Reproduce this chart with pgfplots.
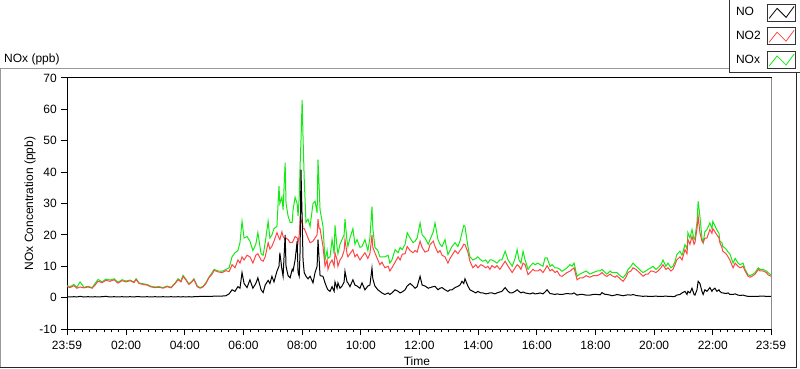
\documentclass[border=0pt]{standalone}
\usepackage{fontspec}
\setmainfont{Liberation Sans}
\usepackage{pgfplots}
\pgfplotsset{compat=1.18}
\usepackage{pgfplotstable}
\definecolor{noxgreen}{RGB}{20,235,20}
\definecolor{notwored}{RGB}{255,70,70}

\pgfplotstableread{
h NO NO2 NOx
-0.0167 0.3 3.5 3.8
0.09 0.2 3.2 3.5
0.22 0.3 3.8 4.2
0.32 0.2 3.0 3.3
0.43 0.4 3.4 5.0
0.56 0.2 3.1 3.3
0.70 0.3 3.4 3.6
0.84 0.2 3.0 3.2
0.94 0.3 4.0 4.5
1.04 0.2 5.2 5.8
1.18 0.3 4.8 5.0
1.31 0.4 5.5 5.9
1.45 0.2 5.2 5.6
1.59 0.3 5.7 6.0
1.72 0.2 4.6 4.9
1.86 0.3 5.4 5.7
2.00 0.2 5.0 5.3
2.13 0.3 5.4 5.6
2.27 0.2 4.8 5.0
2.34 0.3 5.8 6.0
2.44 0.3 4.5 4.7
2.58 0.2 4.2 4.4
2.71 0.3 4.0 4.2
2.85 0.2 3.4 3.6
2.98 0.3 3.2 3.4
3.12 0.2 3.3 3.5
3.26 0.3 3.0 3.2
3.39 0.2 3.5 3.7
3.53 0.3 3.1 3.3
3.67 0.2 4.5 4.7
3.77 0.3 5.7 6.0
3.87 0.2 5.0 5.3
3.94 0.3 6.8 7.1
4.04 0.2 5.6 5.8
4.14 0.3 4.2 4.4
4.24 0.2 5.0 5.2
4.31 0.3 5.8 6.0
4.42 0.3 3.5 3.8
4.52 0.4 3.0 3.2
4.62 0.4 3.4 3.6
4.72 0.4 4.5 4.8
4.82 0.4 6.3 6.5
4.93 0.4 7.5 8.0
5.00 0.5 8.7 9.0
5.13 0.5 8.2 8.5
5.27 0.5 8.0 8.4
5.40 0.6 8.6 9.0
5.51 1.2 8.3 9.5
5.61 2.5 10.5 13.0
5.71 2.0 9.5 14.3
5.81 3.5 12.0 15.0
5.88 3.0 11.0 17.5
5.95 8.0 13.0 24.3
6.02 4.5 12.0 19.0
6.12 3.2 13.5 19.5
6.22 5.7 13.0 18.0
6.32 3.0 11.0 15.0
6.42 4.5 13.5 17.0
6.49 6.3 14.0 20.7
6.60 2.5 12.0 14.0
6.67 1.6 11.6 13.5
6.74 4.0 13.0 17.5
6.84 5.5 17.5 24.3
6.90 4.5 15.5 19.0
6.97 6.8 16.4 20.0
7.04 5.0 18.0 22.0
7.14 8.4 20.7 22.7
7.21 10.0 19.0 35.5
7.24 14.3 18.5 30.0
7.31 9.0 21.0 32.0
7.35 6.8 19.5 28.0
7.42 20.0 18.5 43.0
7.45 10.0 19.0 30.0
7.52 7.0 18.5 26.0
7.59 6.3 17.5 24.0
7.66 9.0 17.5 24.0
7.69 8.5 18.0 28.0
7.76 12.0 19.5 32.0
7.83 18.0 19.0 30.0
7.86 8.0 17.5 26.0
7.90 6.8 20.0 32.0
7.93 15.0 25.0 42.0
7.96 40.8 24.0 50.0
8.00 25.0 25.0 63.0
8.03 12.0 22.0 51.0
8.07 8.0 22.0 38.0
8.13 6.8 20.7 24.0
8.20 6.0 19.0 25.0
8.27 6.8 17.5 22.7
8.37 4.7 18.0 30.0
8.44 8.0 19.0 30.7
8.51 10.0 20.0 27.0
8.54 18.5 25.0 44.0
8.58 12.0 22.0 35.0
8.61 7.0 22.0 28.0
8.71 6.8 16.3 22.7
8.78 4.7 10.0 12.0
8.85 3.0 12.0 15.0
8.88 2.5 9.0 12.5
8.95 2.0 11.0 13.0
9.02 3.5 12.0 18.5
9.09 2.0 10.0 14.0
9.12 5.0 14.3 23.0
9.19 3.0 12.0 16.0
9.22 4.7 10.0 14.0
9.29 3.0 12.0 17.0
9.36 3.7 13.0 18.5
9.43 5.0 15.0 20.0
9.46 8.4 18.5 25.0
9.53 5.0 14.0 18.0
9.56 4.7 13.0 16.3
9.63 3.5 14.0 19.0
9.73 5.7 15.3 22.0
9.80 4.0 13.0 17.0
9.87 3.7 13.8 18.5
9.97 3.0 12.0 16.0
10.04 4.7 13.0 16.3
10.14 2.5 14.3 18.5
10.24 3.7 12.5 15.0
10.31 4.0 14.0 19.0
10.38 9.4 20.0 29.0
10.41 6.0 16.0 22.0
10.48 3.7 14.3 16.0
10.58 2.5 12.0 15.0
10.65 2.0 10.5 13.0
10.72 1.5 11.3 13.0
10.82 1.0 9.5 13.0
10.93 1.5 10.0 13.5
10.99 1.0 8.5 11.0
11.06 1.5 9.5 12.0
11.17 2.5 11.3 15.3
11.27 2.0 13.0 14.3
11.34 1.5 12.0 16.0
11.41 1.8 13.8 15.3
11.51 2.5 14.0 17.0
11.58 3.7 16.3 20.7
11.68 4.5 15.0 19.0
11.78 3.7 14.3 17.5
11.85 3.0 15.0 18.0
11.92 3.5 14.5 19.0
12.02 6.8 18.0 23.8
12.09 4.0 16.0 20.0
12.19 3.7 14.5 19.0
12.30 3.0 15.0 17.0
12.36 3.2 16.9 18.5
12.47 3.5 18.0 21.0
12.53 3.6 16.3 23.8
12.63 2.5 14.3 18.5
12.70 3.0 15.0 17.0
12.77 3.2 13.5 16.3
12.87 2.5 13.0 18.5
12.97 2.0 11.0 13.7
13.04 2.5 12.5 15.0
13.11 2.5 13.5 16.3
13.21 3.2 15.0 17.5
13.31 3.6 14.0 16.3
13.38 4.0 15.0 18.0
13.45 5.2 15.9 20.7
13.51 4.5 17.0 23.0
13.55 6.0 16.9 22.7
13.65 3.7 14.5 16.3
13.72 2.5 11.6 13.0
13.82 2.0 9.5 12.0
13.92 1.5 10.5 12.5
13.99 2.0 9.5 13.0
14.09 1.5 10.5 12.0
14.16 1.5 10.2 11.6
14.26 1.2 9.5 12.0
14.33 1.3 10.0 11.0
14.40 1.5 9.0 12.0
14.47 1.5 10.2 12.0
14.57 1.2 9.5 11.5
14.64 1.5 10.2 11.0
14.74 1.8 9.0 12.0
14.81 2.0 10.0 12.0
14.92 3.2 11.6 14.8
15.02 2.0 10.0 12.0
15.09 1.5 9.0 11.0
15.16 1.5 8.0 10.0
15.26 2.0 9.5 12.5
15.33 2.5 10.5 15.3
15.39 2.0 10.0 12.0
15.46 1.5 9.0 11.0
15.53 1.8 11.0 14.8
15.60 1.5 10.5 12.0
15.70 1.3 7.3 9.0
15.77 1.2 8.0 10.0
15.87 1.5 9.0 11.0
15.94 1.2 8.5 10.5
16.04 1.3 8.5 11.0
16.11 1.5 9.0 10.5
16.21 1.2 8.0 10.0
16.28 1.8 9.0 12.7
16.35 2.5 10.2 12.7
16.45 1.3 8.5 10.0
16.52 1.2 9.0 10.5
16.62 1.0 8.0 9.5
16.69 1.2 8.5 9.5
16.79 1.0 7.0 9.0
16.86 1.0 6.8 8.4
16.96 1.2 7.5 9.0
17.03 1.3 8.0 9.5
17.13 1.2 8.4 10.5
17.20 1.2 9.0 10.0
17.27 1.5 9.5 11.0
17.37 0.8 5.7 6.8
17.47 1.0 6.3 7.5
17.57 1.0 6.3 8.0
17.68 0.8 7.0 8.5
17.81 0.8 6.5 7.5
17.92 1.0 7.0 8.0
18.06 1.0 7.0 8.5
18.16 0.9 7.5 8.5
18.22 1.6 8.0 9.0
18.33 1.0 7.0 8.0
18.39 1.0 6.8 7.5
18.50 0.8 7.5 8.5
18.56 0.6 7.0 8.0
18.67 0.8 6.5 8.0
18.73 1.0 7.0 8.0
18.84 0.8 6.0 7.0
18.94 0.6 5.2 6.3
19.04 0.8 6.5 7.5
19.11 0.9 8.0 9.0
19.21 0.8 8.5 10.0
19.28 1.0 9.5 11.0
19.38 0.7 9.0 10.0
19.45 0.6 8.4 9.5
19.55 0.5 7.5 8.5
19.62 0.4 6.8 8.0
19.72 0.5 7.5 8.5
19.79 0.4 7.5 9.0
19.89 0.4 8.5 9.5
19.96 0.4 8.4 10.0
20.06 0.5 8.0 9.0
20.13 0.4 8.5 9.5
20.23 0.4 9.5 10.5
20.30 0.4 10.5 12.0
20.40 0.5 9.0 10.0
20.47 0.4 9.5 11.0
20.57 0.4 8.5 9.5
20.64 0.3 9.0 10.0
20.71 0.4 10.5 11.5
20.77 0.8 12.0 13.7
20.88 1.0 13.0 14.8
20.95 1.5 12.0 13.5
21.05 2.0 15.3 16.9
21.12 1.0 14.0 15.5
21.15 2.0 18.5 20.7
21.22 1.5 17.0 19.0
21.29 3.0 19.5 21.7
21.36 1.0 17.0 18.5
21.39 0.8 17.5 19.0
21.46 2.5 22.0 24.0
21.50 5.2 25.9 30.7
21.56 4.5 20.7 25.9
21.63 2.0 18.0 19.0
21.67 1.0 17.5 17.5
21.73 2.5 19.0 21.0
21.80 2.0 19.0 21.7
21.90 3.2 21.7 23.8
21.97 2.0 20.5 22.0
22.00 2.5 22.0 24.3
22.07 3.0 21.0 23.0
22.14 2.0 20.0 21.5
22.21 2.5 19.0 20.5
22.24 2.0 17.5 18.0
22.31 1.5 16.0 17.5
22.34 1.5 14.8 16.3
22.45 1.3 14.0 15.5
22.52 1.5 13.0 14.5
22.58 1.0 12.0 14.0
22.69 1.0 9.5 11.0
22.76 1.2 11.0 12.5
22.86 0.8 10.0 11.0
22.93 0.7 9.5 10.5
23.03 0.8 10.0 11.0
23.10 0.6 8.5 9.0
23.20 0.4 6.8 7.3
23.27 0.4 6.5 7.0
23.37 0.4 7.0 7.5
23.44 0.4 7.5 8.0
23.55 0.4 9.0 9.5
23.61 0.5 8.5 9.0
23.71 0.5 8.5 9.0
23.82 0.4 8.0 8.5
23.88 0.4 7.3 8.0
23.9833 0.4 6.8 7.2
}\data

\begin{document}
\begin{tikzpicture}[font=\fontsize{12bp}{14bp}\selectfont]
\useasboundingbox (0bp,0bp) rectangle (800bp,369bp);
\fill[white] (0bp,0bp) rectangle (800bp,369bp);
\draw[black!40,line width=1bp] (0.5bp,1.5bp) -- (0.5bp,300.5bp) -- (796.5bp,300.5bp);
\draw[black!85,line width=1bp] (0.5bp,1.5bp) -- (796.5bp,1.5bp) -- (796.5bp,300.5bp);
\node[anchor=base west,inner sep=0pt] at (4bp,306bp) {NOx (ppb)};
\begin{axis}[
  at={(67bp,40bp)}, anchor=south west, scale only axis,
  width=704bp, height=251bp,
  xmin=-0.0167, xmax=23.9833, ymin=-10, ymax=70,
  axis line style={black, line width=1bp},
  tick pos=left, tick align=outside,
  major tick length=6bp, minor tick length=3bp,
  every tick/.style={black, line width=1bp},
  xtick={-0.0167,2,4,6,8,10,12,14,16,18,20,22,23.9833},
  xticklabels={23:59,02:00,04:00,06:00,08:00,10:00,12:00,14:00,16:00,18:00,20:00,22:00,23:59},
  minor xtick={0.25,0.5,...,23.75},
  ytick={-10,0,...,70},
  /pgf/number format/assume math mode=true,
  xticklabel style={anchor=base, yshift=-14bp, inner sep=0pt},
  yticklabel style={anchor=east, xshift=-4bp, inner sep=0pt},
  xlabel={Time}, ylabel={NOx Concentration (ppb)},
  every axis x label/.style={at={(axis description cs:0.497,-0.1454)}, anchor=base, inner sep=0pt},
  every axis y label/.style={at={(axis description cs:-0.0526,0.5)}, rotate=90, anchor=center, inner sep=0pt},
  legend plot pos=right,
  legend style={at={(axis description cs:1.0426,1.3147)}, anchor=north east,
    draw=black!80, line width=1bp, fill=white, inner xsep=5bp, inner ysep=4bp,
    row sep=6bp, column sep=4bp, cells={anchor=west},
    font=\fontsize{12bp}{14bp}\selectfont},
  legend image code/.code={
    \draw[black!80, fill=white, line width=0.8bp] (0bp,-8.5bp) rectangle (28bp,8.5bp);
    \draw[#1, line width=0.8bp] (2bp,-6bp) -- (10bp,4bp) -- (19bp,-5bp) -- (27bp,6bp);
  },
  after end axis/.code={
    \draw[black!45, line width=1bp] (rel axis cs:1,0) -- (rel axis cs:1,1);
  },
]
\addlegendimage{black}
\addlegendentry{NO}
\addlegendimage{notwored}
\addlegendentry{NO2}
\addlegendimage{noxgreen}
\addlegendentry{NOx}
\addplot[noxgreen, line width=1bp, forget plot] table[x=h, y=NOx] {\data};
\addplot[notwored, line width=1bp, forget plot] table[x=h, y=NO2] {\data};
\addplot[black, line width=1bp, forget plot] table[x=h, y=NO] {\data};
\end{axis}
\end{tikzpicture}
\end{document}
